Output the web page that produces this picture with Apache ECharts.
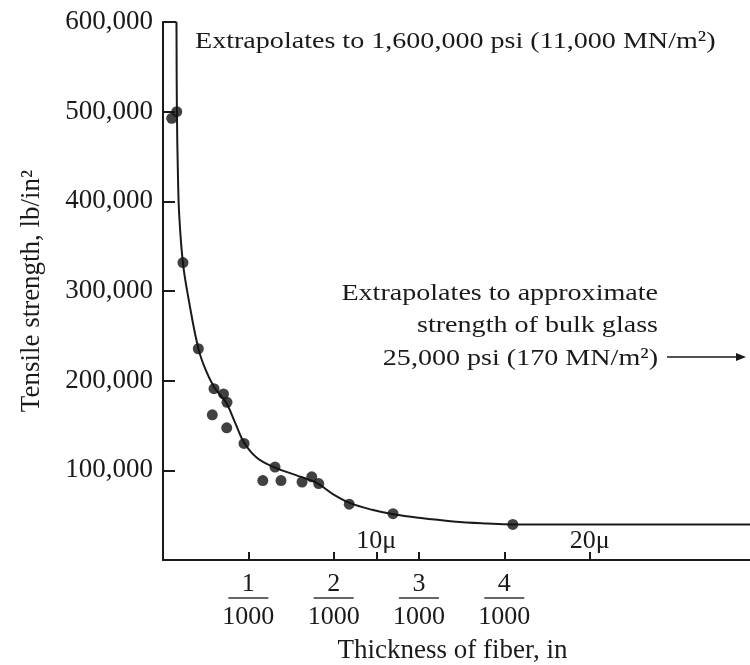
<!DOCTYPE html>
<html>
<head>
<meta charset="utf-8">
<script src="https://cdn.jsdelivr.net/npm/echarts@6/dist/echarts.min.js"></script>
<style>
  html, body { margin: 0; padding: 0; background: #fff; }
  #chart { width: 750px; height: 665px; }
</style>
</head>
<body>
<div id="chart"></div>
<script>
// ---- Data (thickness in thousandths of an inch, strength in psi) ----
const POINT_X = [0.161, 0.102, 0.234, 0.414, 0.598, 0.709, 0.750, 0.578, 0.747, 0.950, 1.313, 1.170, 1.383, 1.630, 1.743, 1.825, 2.183, 2.696, 4.10];
const POINT_Y = [500000, 492600, 331700, 235600, 191100, 185200, 175900, 161900, 147400, 130000, 103700, 88600, 88600, 87000, 92800, 85200, 62200, 51700, 39700];

const CURVE_X = [0.158, 0.163, 0.175, 0.19, 0.234, 0.30, 0.414, 0.50, 0.598, 0.68, 0.75, 0.85, 0.95, 1.10, 1.313, 1.55, 1.80, 2.0, 2.18, 2.45, 2.70, 3.0, 3.4, 3.8, 4.10, 5.0, 6.88];
const CURVE_Y = [600000, 500000, 430000, 385000, 331000, 291000, 236000, 212000, 193000, 183000, 174000, 152000, 131000, 114000, 103000, 95000, 86000, 73000, 64000, 56000, 51000, 47000, 43000, 40700, 39700, 39700, 39700];

// cap closing the top of the off-scale curve
const CAP_X = [0, 0.158];
const CAP_Y = [600000, 600000];

const X_TICK_VALUES = [1, 2, 3, 4];
const X_NUMERATORS = ['1', '2', '3', '4'];
const X_DENOMINATOR = '1000';
const X_ALL_TICKS = [1, 2, 2.5, 3, 4, 5];
const MICRON_VALUES = [2.5, 5];
const MICRON_LABELS = ['10μ', '20μ'];
const Y_TICK_LABELS = ['', '100,000', '200,000', '300,000', '400,000', '500,000', '600,000'];

const TOP_NOTE = 'Extrapolates to 1,600,000 psi (11,000 MN/m²)';
const RIGHT_NOTE = ['Extrapolates to approximate', 'strength of bulk glass', '25,000 psi (170 MN/m²)'];

const FONT = '"Liberation Serif", "Times New Roman", serif';
const INK = '#1a1a1a';

const chart = echarts.init(document.getElementById('chart'), null, { renderer: 'canvas' });

const option = {
  backgroundColor: '#fff',
  animation: false,
  grid: { left: 163, right: 0, top: 22, bottom: 105, containLabel: false, outerBoundsMode: 'none' },
  xAxis: [
    {
      type: 'value', min: 0, max: 6.88,
      name: 'Thickness of fiber, in',
      nameLocation: 'middle', nameGap: 77,
      nameTextStyle: { fontFamily: FONT, fontSize: 27, color: INK, padding: [0, 8, 0, 0] },
      axisLine: { show: true, onZero: false, lineStyle: { color: INK, width: 2 } },
      axisTick: { show: true, inside: true, length: 8, customValues: X_ALL_TICKS, lineStyle: { color: INK, width: 2 } },
      splitLine: { show: false },
      axisLabel: {
        customValues: X_TICK_VALUES,
        margin: 12,
        formatter: function (v) {
          const i = X_TICK_VALUES.indexOf(v);
          return '{n|' + X_NUMERATORS[i] + '}\n{b| }\n{d|' + X_DENOMINATOR + '}';
        },
        rich: {
          n: { fontFamily: FONT, fontSize: 26, color: INK, lineHeight: 24, align: 'center' },
          b: { width: 40, height: 1.5, lineHeight: 4, backgroundColor: '#333', fontSize: 1, align: 'center' },
          d: { fontFamily: FONT, fontSize: 26, color: INK, lineHeight: 34, align: 'center' }
        }
      }
    },
    {
      type: 'value', min: 0, max: 6.88, position: 'bottom',
      axisLine: { show: false }, axisTick: { show: false }, splitLine: { show: false },
      axisLabel: {
        inside: true, margin: 6,
        customValues: MICRON_VALUES,
        formatter: function (v) { return MICRON_LABELS[MICRON_VALUES.indexOf(v)]; },
        fontFamily: FONT, fontSize: 26, color: INK
      }
    }
  ],
  yAxis: {
    type: 'value', min: 0, max: 600000, interval: 100000,
    name: 'Tensile strength, lb/in²',
    nameLocation: 'middle', nameGap: 118,
    nameTextStyle: { fontFamily: FONT, fontSize: 27, color: INK },
    axisLine: { show: true, lineStyle: { color: INK, width: 2 } },
    axisTick: { show: true, inside: true, length: 12, lineStyle: { color: INK, width: 2 } },
    splitLine: { show: false },
    axisLabel: {
      margin: 10,
      formatter: function (v) { return Y_TICK_LABELS[Math.round(v / 100000)]; },
      fontFamily: FONT, fontSize: 27, color: INK
    }
  },
  series: [
    {
      name: 'fit', type: 'line', xAxisIndex: 0,
      data: CURVE_X.map((x, i) => [x, CURVE_Y[i]]),
      smooth: 0.4, showSymbol: false, symbol: 'none',
      lineStyle: { color: INK, width: 2 }, z: 3
    },
    {
      name: 'cap', type: 'line', xAxisIndex: 0,
      data: CAP_X.map((x, i) => [x, CAP_Y[i]]),
      showSymbol: false, symbol: 'none',
      lineStyle: { color: INK, width: 2 }, z: 3
    },
    {
      name: 'measured', type: 'scatter', xAxisIndex: 0,
      data: POINT_X.map((x, i) => [x, POINT_Y[i]]),
      symbol: 'circle', symbolSize: 11,
      itemStyle: { color: '#111' }, z: 4
    }
  ],
  graphic: [
    {
      type: 'text', x: 195, y: 42, scaleX: 1.17,
      style: { text: TOP_NOTE, font: '24px ' + FONT, fill: INK, align: 'left', verticalAlign: 'middle' }
    },
    {
      type: 'text', x: 658, y: 326, scaleX: 1.17,
      style: { text: RIGHT_NOTE.join('\n'), font: '24px ' + FONT, fill: INK, align: 'right', verticalAlign: 'middle', lineHeight: 32.5 }
    },
    {
      type: 'line', shape: { x1: 667, y1: 357, x2: 738, y2: 357 },
      style: { stroke: INK, lineWidth: 1.5 }
    },
    {
      type: 'polygon', shape: { points: [[746, 357], [736, 353], [736, 361]] },
      style: { fill: INK }
    }
  ]
};

chart.setOption(option);
</script>
</body>
</html>
